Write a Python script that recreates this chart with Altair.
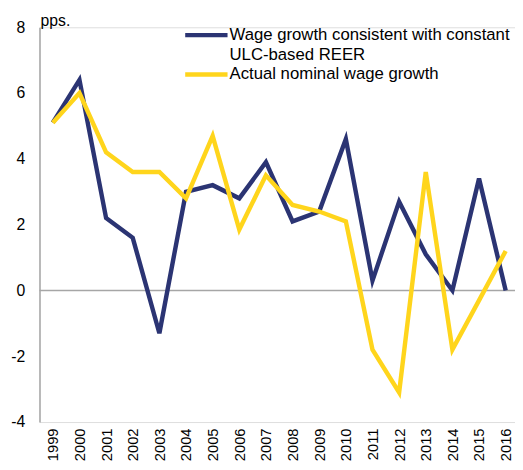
import altair as alt
import pandas as pd

years = list(range(1999, 2017))
consistent = [5.1, 6.4, 2.2, 1.6, -1.3, 3.0, 3.2, 2.8, 3.9, 2.1, 2.4, 4.6, 0.3, 2.7, 1.1, 0.0, 3.4, 0.0]
actual = [5.1, 6.0, 4.2, 3.6, 3.6, 2.8, 4.7, 1.85, 3.5, 2.6, 2.4, 2.1, -1.8, -3.1, 3.6, -1.8, -0.3, 1.2]
series_names = ["Wage growth consistent with constant ULC-based REER", "Actual nominal wage growth"]
colors = ["#2B3473", "#FFD51C"]
y_ticks = [-4, -2, 0, 2, 4, 6, 8]

rows = []
for name, vals in zip(series_names, [consistent, actual]):
    for yr, v in zip(years, vals):
        rows.append({"year": yr, "value": v, "series": name})
df = pd.DataFrame(rows)

W, H = 483, 401
FONT = "Liberation Sans"

x_scale = alt.Scale(domain=[1998.5, 2016.35], nice=False, zero=False)
y_scale = alt.Scale(domain=[-4, 8], nice=False, zero=False)

x_axis = alt.Axis(values=years, format="d", labelAngle=-90, domain=False, ticks=False,
                  grid=False, labelPadding=6, labelFontSize=15, labelFont=FONT,
                  labelColor="#000", title=None, labelOverlap=False)
y_axis = alt.Axis(values=y_ticks, domain=True, domainColor="#A6A6A6", domainWidth=1.5,
                  ticks=False, grid=False, labelPadding=15, labelFontSize=16,
                  labelFont=FONT, labelColor="#000", title=None,
                  labelExpr="'' + datum.value")

lines = alt.Chart(df).mark_line(strokeWidth=4.5, strokeJoin="miter").encode(
    x=alt.X("year:Q", scale=x_scale, axis=x_axis),
    y=alt.Y("value:Q", scale=y_scale, axis=y_axis),
    color=alt.Color("series:N", scale=alt.Scale(domain=series_names, range=colors), legend=None),
    order=alt.Order("year:Q"),
)

zero = alt.Chart(pd.DataFrame({"value": [0]})).mark_rule(color="#A6A6A6", strokeWidth=1.5).encode(
    y=alt.Y("value:Q", scale=y_scale, axis=y_axis),
    x=alt.value(0), x2=alt.value(W + 10),
)

pps = alt.Chart(pd.DataFrame({"t": ["pps."]})).mark_text(
    align="left", baseline="middle", fontSize=16, font=FONT, color="#000"
).encode(text="t:N", x=alt.value(1), y=alt.value(-6))

leg_rules = []
for i, (c, yy) in enumerate(zip(colors, [8, 48])):
    leg_rules.append(
        alt.Chart(pd.DataFrame({"k": [i]})).mark_rule(color=c, strokeWidth=4.5).encode(
            x=alt.value(148), x2=alt.value(191), y=alt.value(yy)
        )
    )
leg_text_lines = ["Wage growth consistent with constant", "ULC-based REER", "Actual nominal wage growth"]
leg_texts = []
for t, yy in zip(leg_text_lines, [8, 28, 48]):
    leg_texts.append(
        alt.Chart(pd.DataFrame({"t": [t]})).mark_text(
            align="left", baseline="middle", fontSize=17, font=FONT, color="#000"
        ).encode(text="t:N", x=alt.value(193), y=alt.value(yy))
    )

chart = alt.layer(zero, lines, pps, *leg_rules, *leg_texts).properties(
    width=W, height=H,
    autosize=alt.AutoSizeParams(type="none"),
    padding={"left": 32, "top": 16, "right": 0, "bottom": 37},
).configure_view(stroke=None).configure(background="white")

chart.save("out.html", embed_options={"renderer": "svg", "actions": False})
